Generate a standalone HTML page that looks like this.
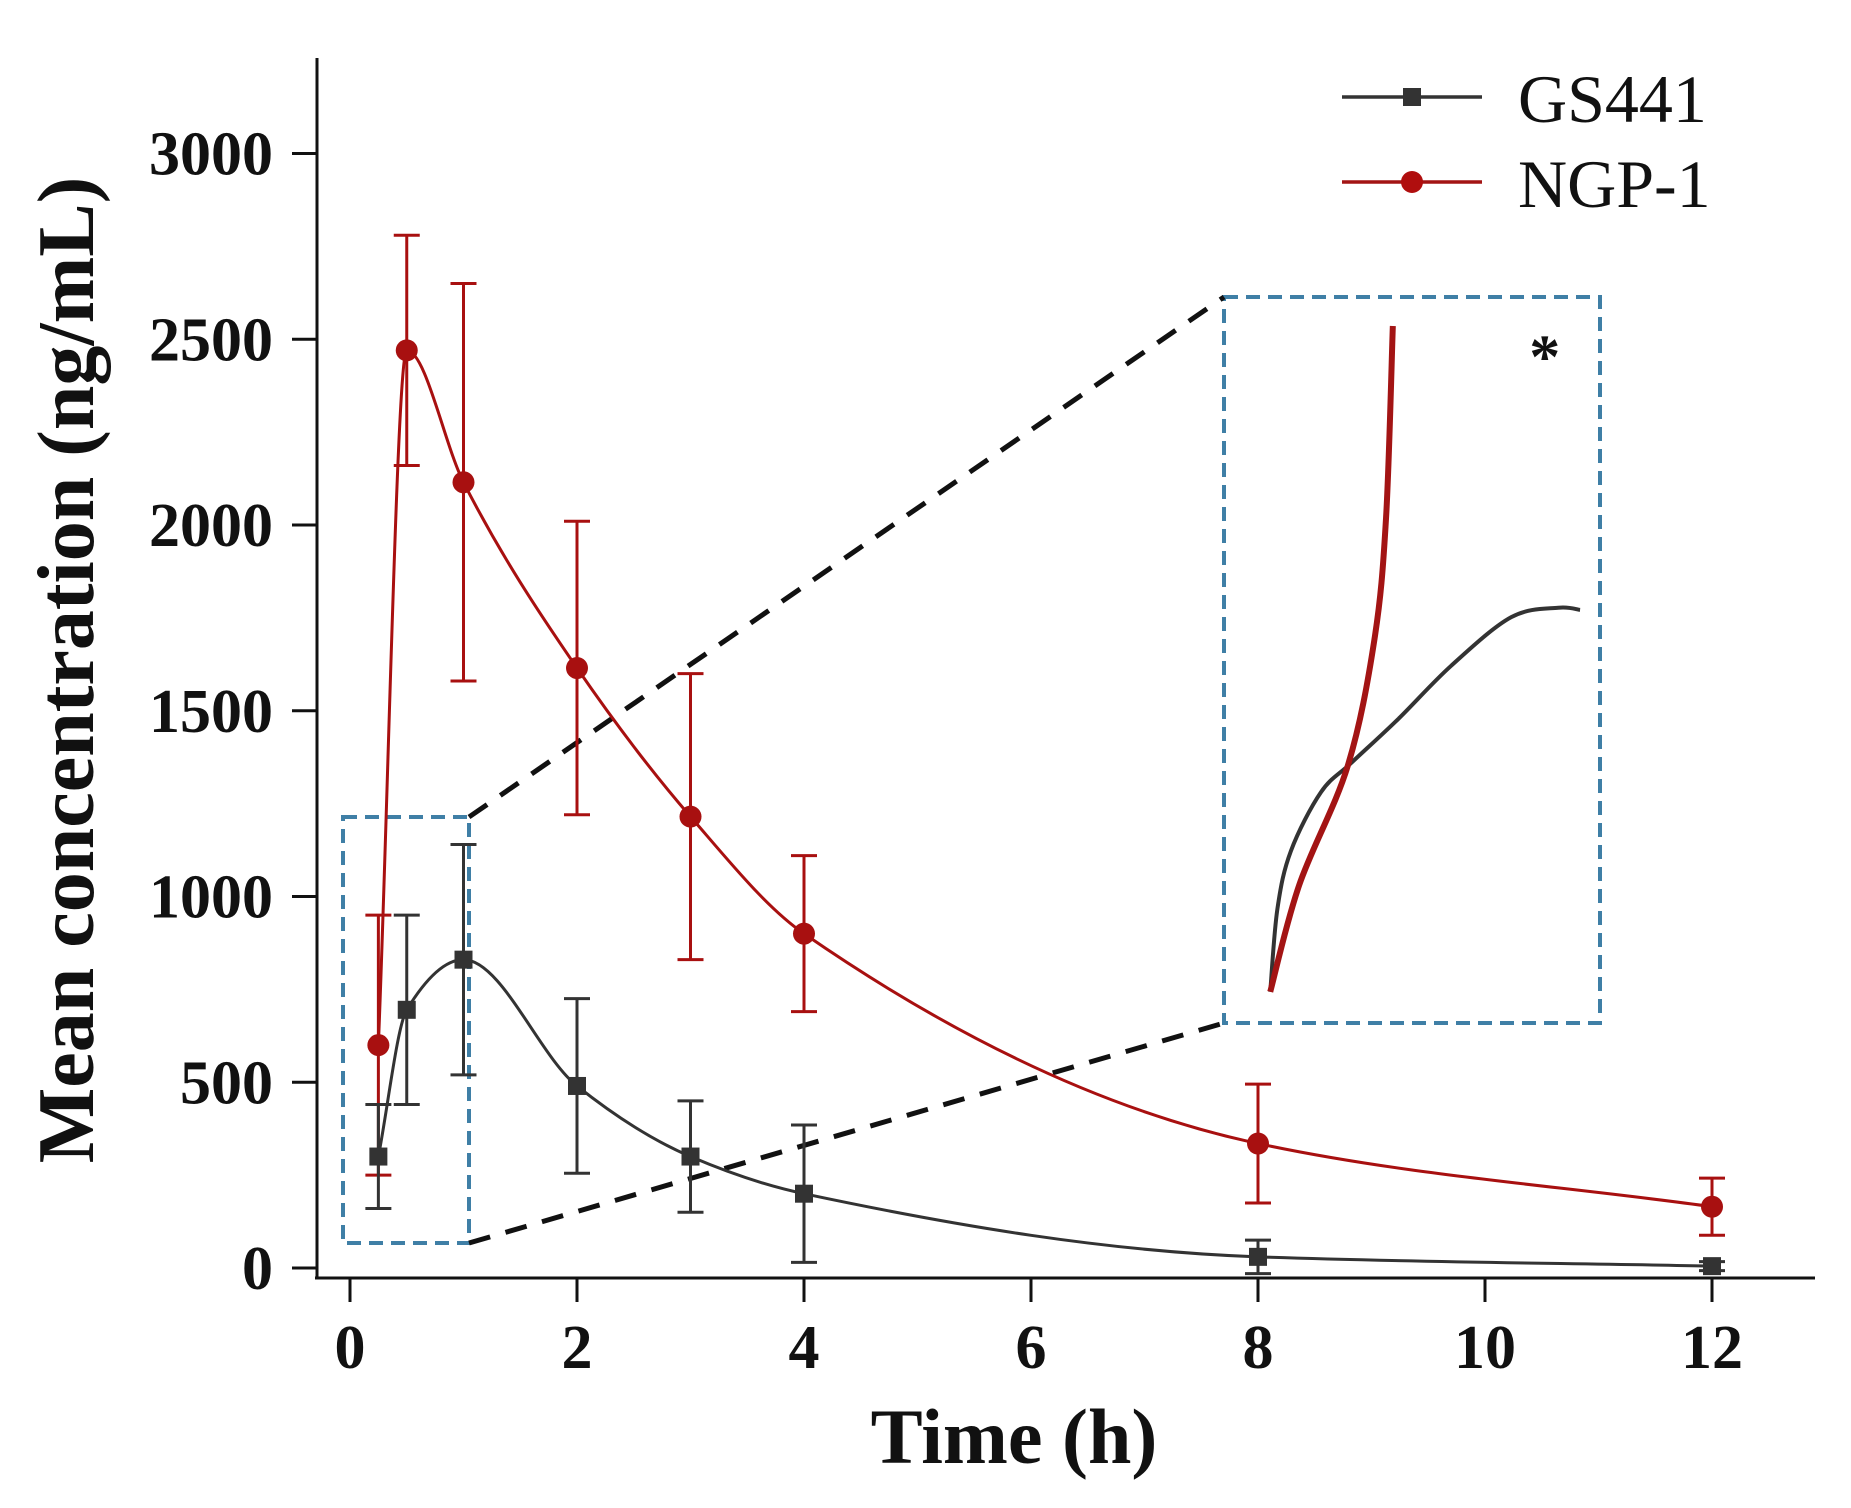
<!DOCTYPE html>
<html><head><meta charset="utf-8"><style>
html,body{margin:0;padding:0;background:#fff;}
svg{display:block;}
text{font-family:"Liberation Serif",serif;}
</style></head><body>
<svg id="chart" width="1851" height="1508" viewBox="0 0 1851 1508" xmlns="http://www.w3.org/2000/svg">
<g id="axes"></g>
<g id="zoomdeco"></g>
<g id="series"></g>
<g id="legend">
  <line x1="1342" y1="97" x2="1482" y2="97" stroke="#333" stroke-width="3.5"/>
  <rect x="1403" y="88" width="18" height="18" fill="#333"/>
  <text x="1518" y="122" font-size="68" fill="#111">GS441</text>
  <line x1="1342" y1="182" x2="1482" y2="182" stroke="#a31414" stroke-width="3.5"/>
  <circle cx="1412" cy="182" r="11" fill="#b00e0e"/>
  <text x="1518" y="207" font-size="68" fill="#111">NGP-1</text>
</g>
<text x="1014" y="1463" font-size="78" font-weight="bold" text-anchor="middle" fill="#111">Time (h)</text>
<text x="0" y="0" font-size="80" font-weight="bold" text-anchor="middle" fill="#111" transform="translate(93,670) rotate(-90)">Mean concentration (ng/mL)</text>
</svg>
<script>
const xTicks = [0, 2, 4, 6, 8, 10, 12];
const yTicks = [0, 500, 1000, 1500, 2000, 2500, 3000];
const times = [0.25, 0.5, 1, 2, 3, 4, 8, 12];
const gsMean = [300, 695, 830, 490, 300, 200, 30, 5];
const gsErr = [140, 255, 310, 235, 150, 185, 45, 12];
const ngpMean = [600, 2470, 2115, 1615, 1215, 900, 335, 165];
const ngpErr = [350, 310, 535, 395, 385, 210, 160, 77];
// inset curves, as fractions of the zoomed box
const insetRedX = [0.123, 0.2, 0.329, 0.4, 0.431, 0.449];
const insetRedY = [0.957, 0.81, 0.646, 0.472, 0.304, 0.04];
const insetGrayX = [0.123, 0.142, 0.178, 0.258, 0.338, 0.462, 0.604, 0.764, 0.889, 0.947];
const insetGrayY = [0.957, 0.843, 0.763, 0.682, 0.642, 0.582, 0.508, 0.441, 0.428, 0.431];

const NS = "http://www.w3.org/2000/svg";
const X0 = 350, XS = 113.5, Y0 = 1268, YS = 0.3715;
function xs(t){ return X0 + XS * t; }
function ys(v){ return Y0 - YS * v; }
function mk(tag, attrs, parent){
  const e = document.createElementNS(NS, tag);
  for (const k in attrs) e.setAttribute(k, attrs[k]);
  parent.appendChild(e);
  return e;
}
const axes = document.getElementById('axes');
let e;
e = mk('line', {x1:317, y1:58, x2:317, y2:1279, stroke:'#111', 'stroke-width':3}, axes);


e = mk('line', {x1:315, y1:1278, x2:1815, y2:1278, stroke:'#111', 'stroke-width':3}, axes);


xTicks.forEach(t => {
  const l = mk('line', {x1:xs(t), y1:1278, x2:xs(t), y2:1302, stroke:'#111', 'stroke-width':3}, axes);
  
  
  const tx = mk('text', {x:xs(t), y:1368, 'font-size':62, 'font-weight':'bold', 'text-anchor':'middle', fill:'#111'}, axes);
  tx.textContent = t;
  
  
});
yTicks.forEach(v => {
  const l = mk('line', {x1:292, y1:ys(v), x2:317, y2:ys(v), stroke:'#111', 'stroke-width':3}, axes);
  
  
  const tx = mk('text', {x:273, y:ys(v)+21, 'font-size':62, 'font-weight':'bold', 'text-anchor':'end', fill:'#111'}, axes);
  tx.textContent = v;
  
  
});

// zoom decoration
const zd = document.getElementById('zoomdeco');
const BX0 = 1224, BY0 = 297, BX1 = 1600, BY1 = 1023;
e = mk('rect', {x:343, y:817, width:126, height:426, fill:'none', stroke:'#3f7fa6', 'stroke-width':4, 'stroke-dasharray':'14,8'}, zd);


e = mk('rect', {x:BX0, y:BY0, width:BX1-BX0, height:BY1-BY0, fill:'none', stroke:'#3f7fa6', 'stroke-width':4, 'stroke-dasharray':'14,8'}, zd);


e = mk('line', {x1:469, y1:817, x2:BX0, y2:BY0, stroke:'#111', 'stroke-width':5, 'stroke-dasharray':'22,16'}, zd);


e = mk('line', {x1:469, y1:1243, x2:BX0, y2:BY1, stroke:'#111', 'stroke-width':5, 'stroke-dasharray':'22,16'}, zd);



function smoothPath(pts){
  let d = 'M' + pts[0][0] + ',' + pts[0][1];
  for (let i = 0; i < pts.length - 1; i++){
    const p0 = pts[Math.max(i-1,0)], p1 = pts[i], p2 = pts[i+1], p3 = pts[Math.min(i+2, pts.length-1)];
    const c1x = p1[0] + (p2[0]-p0[0])/6, c1y = p1[1] + (p2[1]-p0[1])/6;
    const c2x = p2[0] - (p3[0]-p1[0])/6, c2y = p2[1] - (p3[1]-p1[1])/6;
    d += ' C' + c1x + ',' + c1y + ' ' + c2x + ',' + c2y + ' ' + p2[0] + ',' + p2[1];
  }
  return d;
}
// monotone cubic (Fritsch-Carlson) in x
function monoPath(pts){
  const n = pts.length, dx = [], sl = [], m = [];
  for (let i = 0; i < n-1; i++){ dx.push(pts[i+1][0]-pts[i][0]); sl.push((pts[i+1][1]-pts[i][1])/dx[i]); }
  m[0] = sl[0]; m[n-1] = sl[n-2];
  for (let i = 1; i < n-1; i++){
    if (sl[i-1]*sl[i] <= 0) m[i] = 0;
    else { const w1 = 2*dx[i]+dx[i-1], w2 = dx[i]+2*dx[i-1]; m[i] = (w1+w2)/(w1/sl[i-1]+w2/sl[i]); }
  }
  let d = 'M' + pts[0][0] + ',' + pts[0][1];
  for (let i = 0; i < n-1; i++){
    const h = dx[i]/3;
    d += ' C' + (pts[i][0]+h) + ',' + (pts[i][1]+m[i]*h) + ' ' + (pts[i+1][0]-h) + ',' + (pts[i+1][1]-m[i+1]*h) + ' ' + pts[i+1][0] + ',' + pts[i+1][1];
  }
  return d;
}
const bw = BX1-BX0, bh = BY1-BY0;
e = mk('path', {d: smoothPath(insetGrayX.map((f,i)=>[BX0+f*bw, BY0+insetGrayY[i]*bh])), fill:'none', stroke:'#333', 'stroke-width':4}, zd);


e = mk('path', {d: smoothPath(insetRedX.map((f,i)=>[BX0+f*bw, BY0+insetRedY[i]*bh])), fill:'none', stroke:'#a31414', 'stroke-width':6}, zd);


e = mk('text', {x:BX0+0.853*bw, y:BY0+0.064*bh+34, 'font-size':62, 'font-weight':'bold', 'text-anchor':'middle', fill:'#111'}, zd);
e.textContent = '*';



// series
const sg = document.getElementById('series');
function drawSeries(means, errs, color, marker, name){
  const g = mk('g', {}, sg);
  
  
  const pts = times.map((t,i)=>[xs(t), ys(means[i])]);
  const p = mk('path', {d: monoPath(pts), fill:'none', stroke:color, 'stroke-width':3}, g);
  
  
  times.forEach((t,i)=>{
    const x = xs(t), yt = ys(means[i]+errs[i]), yb = ys(means[i]-errs[i]);
    const eb = mk('path', {d:'M'+x+','+yt+' L'+x+','+yb+' M'+(x-13)+','+yt+' L'+(x+13)+','+yt+' M'+(x-13)+','+yb+' L'+(x+13)+','+yb, stroke:color, 'stroke-width':3, fill:'none'}, g);
    
    
    let m;
    if (marker === 'square') m = mk('rect', {x:x-9, y:ys(means[i])-9, width:18, height:18, fill:color}, g);
    else m = mk('circle', {cx:x, cy:ys(means[i]), r:11, fill:color}, g);
    
    
  });
}
drawSeries(ngpMean, ngpErr, '#a81010', 'circle', 'ngp1');
drawSeries(gsMean, gsErr, '#333333', 'square', 'gs441');
</script>
</body></html>
